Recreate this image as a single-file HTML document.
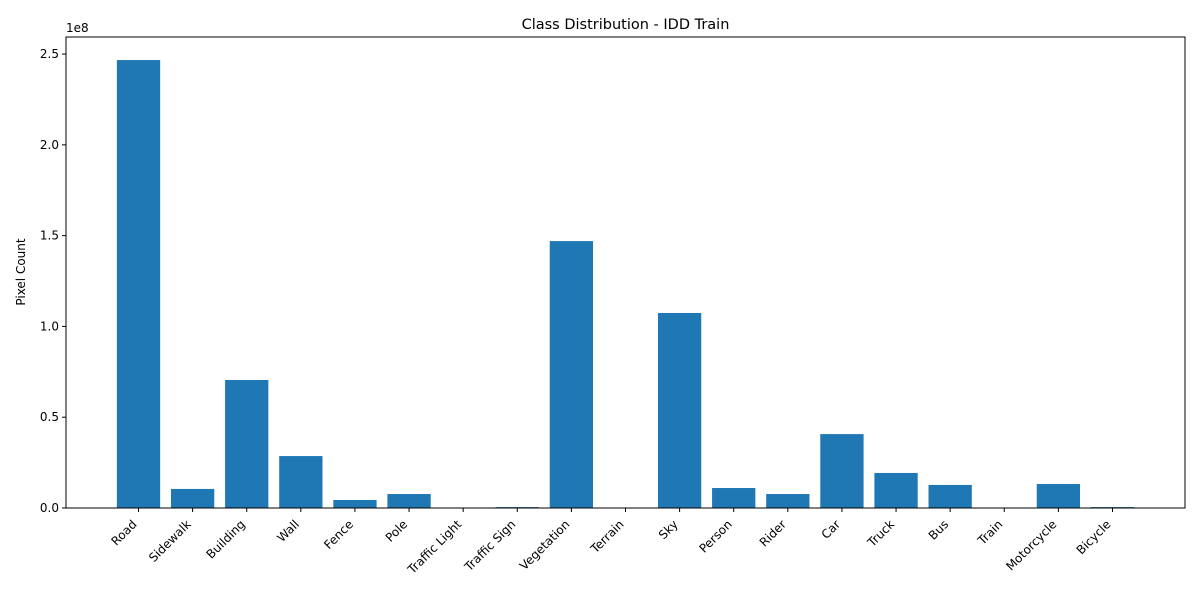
<!DOCTYPE html>
<html><head><meta charset="utf-8"><style>
body{margin:0;background:#fff;font-family:"Liberation Sans","DejaVu Sans",sans-serif;}
svg text{font-family:"DejaVu Sans","Liberation Sans",sans-serif;fill:#000;}
</style></head><body>
<svg id="chart" width="1200" height="600">
<rect width="1200" height="600" fill="#fff"/>
<text x="625.5" y="29" font-size="14.5" text-anchor="middle">Class Distribution - IDD Train</text>
<text x="25" y="272" font-size="12" text-anchor="middle" transform="rotate(-90 25 272)">Pixel Count</text>
<text x="66" y="32" font-size="12">1e8</text>
<g id="bars"></g><g id="yticks"></g><g id="xticks"></g>
<rect x="66" y="37" width="1119" height="471" fill="none" stroke="#000" stroke-width="1"/>
</svg>
<script>
const categories=["Road","Sidewalk","Building","Wall","Fence","Pole","Traffic Light","Traffic Sign","Vegetation","Terrain","Sky","Person","Rider","Car","Truck","Bus","Train","Motorcycle","Bicycle"];
const values=[2.467,0.105,0.705,0.286,0.044,0.077,0.001,0.005,1.470,0,1.074,0.11,0.077,0.407,0.193,0.127,0,0.132,0.005];
const yTicks=[0,0.5,1.0,1.5,2.0,2.5];
const yTickLabels=["0.0","0.5","1.0","1.5","2.0","2.5"];
const L=66,R=1185,T=37,B=508;
const xmin=-1.34,xmax=categories.length-1+1.34;
const ymax=2.594;
const sx=i=>L+(i-xmin)/(xmax-xmin)*(R-L);
const sy=v=>B-v/ymax*(B-T);
const NS="http://www.w3.org/2000/svg";
const unit=(R-L)/(xmax-xmin);
const bars=document.getElementById('bars');
values.forEach((v,i)=>{
 const r=document.createElementNS(NS,'rect');
 r.setAttribute('x',sx(i)-0.4*unit);r.setAttribute('width',0.8*unit);
 r.setAttribute('y',sy(v));r.setAttribute('height',B-sy(v));
 r.setAttribute('fill','#1f77b4');
 
 
 bars.appendChild(r);
});
const yt=document.getElementById('yticks');
yTicks.forEach((t,i)=>{
 const y=sy(t);
 const l=document.createElementNS(NS,'line');
 l.setAttribute('x1',L-4);l.setAttribute('x2',L);l.setAttribute('y1',y);l.setAttribute('y2',y);l.setAttribute('stroke','#000');
 
 
 yt.appendChild(l);
 const tx=document.createElementNS(NS,'text');
 tx.setAttribute('x',L-7);tx.setAttribute('y',y+4);tx.setAttribute('text-anchor','end');tx.setAttribute('font-size','12');
 tx.textContent=yTickLabels[i];
 
 
 yt.appendChild(tx);
});
const xt=document.getElementById('xticks');
categories.forEach((c,i)=>{
 const x=sx(i);
 const l=document.createElementNS(NS,'line');
 l.setAttribute('x1',x);l.setAttribute('x2',x);l.setAttribute('y1',B);l.setAttribute('y2',B+4);l.setAttribute('stroke','#000');
 
 
 xt.appendChild(l);
 const ax=x-1, ay=B+17;
 const tx=document.createElementNS(NS,'text');
 tx.setAttribute('x',ax);tx.setAttribute('y',ay);tx.setAttribute('text-anchor','end');tx.setAttribute('font-size','12');
 tx.setAttribute('transform','rotate(-45 '+ax+' '+ay+')');
 tx.textContent=c;
 
 
 xt.appendChild(tx);
});
</script>
</body></html>
